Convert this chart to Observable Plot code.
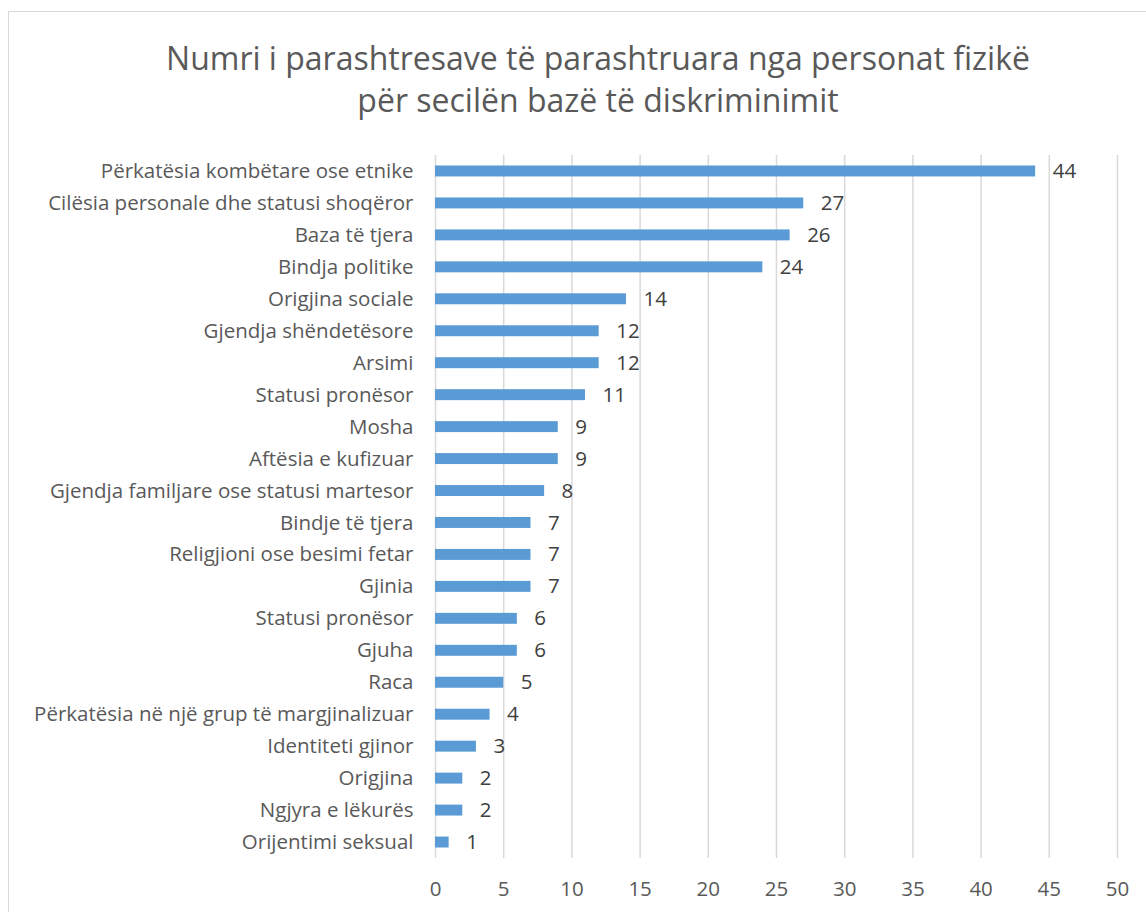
<!DOCTYPE html>
<html>
<head>
<meta charset="utf-8">
<script src="https://cdn.jsdelivr.net/npm/d3@7"></script>
<script src="https://cdn.jsdelivr.net/npm/@observablehq/plot@0.6"></script>
<style>
  html, body { margin: 0; padding: 0; background: #fff; overflow: hidden; }
  body { width: 1146px; height: 912px; position: relative; font-family: "Open Sans", "Noto Sans", sans-serif; }
  #frame { position: absolute; left: 8px; top: 11px; width: 1160px; height: 920px; border: 1px solid #d9d9d9; box-sizing: border-box; }
  #title { position: absolute; left: 0; top: 37px; width: 1196px; text-align: center; color: #595959; font-size: 32px; line-height: 42px; }
  #chart { position: absolute; left: 0; top: 140px; }
</style>
</head>
<body>
<div id="frame"></div>
<div id="title">Numri i parashtresave të parashtruara nga personat fizikë<br>për secilën bazë të diskriminimit</div>
<div id="chart"></div>
<script>
const categories = [
  "Përkatësia kombëtare ose etnike",
  "Cilësia personale dhe statusi shoqëror",
  "Baza të tjera",
  "Bindja politike",
  "Origjina sociale",
  "Gjendja shëndetësore",
  "Arsimi",
  "Statusi pronësor",
  "Mosha",
  "Aftësia e kufizuar",
  "Gjendja familjare ose statusi martesor",
  "Bindje të tjera",
  "Religjioni ose besimi fetar",
  "Gjinia",
  "Statusi pronësor",
  "Gjuha",
  "Raca",
  "Përkatësia në një grup të margjinalizuar",
  "Identiteti gjinor",
  "Origjina",
  "Ngjyra e lëkurës",
  "Orijentimi seksual"
];
const values = [44, 27, 26, 24, 14, 12, 12, 11, 9, 9, 8, 7, 7, 7, 6, 6, 5, 4, 3, 2, 2, 1];
const xTicks = [0, 5, 10, 15, 20, 25, 30, 35, 40, 45, 50];

const data = categories.map((c, i) => ({idx: i, label: c, value: values[i]}));

const chart = Plot.plot({
  width: 1146,
  height: 772,
  marginLeft: 435,
  marginRight: 29,
  marginTop: 15,
  marginBottom: 54,
  style: {fontFamily: "'Open Sans', 'Noto Sans', sans-serif", fontSize: "20.5px", color: "#595959", background: "transparent"},
  x: {domain: [0, 50], ticks: xTicks, tickSize: 0, tickPadding: 23, label: null},
  y: {domain: data.map(d => d.idx), padding: 0, round: false, tickSize: 0, tickPadding: 22, label: null, tickFormat: i => categories[i]},
  marks: [
    Plot.ruleX(xTicks, {stroke: "#d9d9d9", strokeWidth: 1.5}),
    Plot.barX(data, {x: "value", y: "idx", fill: "#5B9BD5", insetTop: 10.5, insetBottom: 10.5}),
    Plot.text(data, {x: "value", y: "idx", text: d => String(d.value), textAnchor: "start", dx: 17, fill: "#404040", fontSize: 20.5})
  ]
});
document.getElementById("chart").appendChild(chart);
</script>
</body>
</html>
